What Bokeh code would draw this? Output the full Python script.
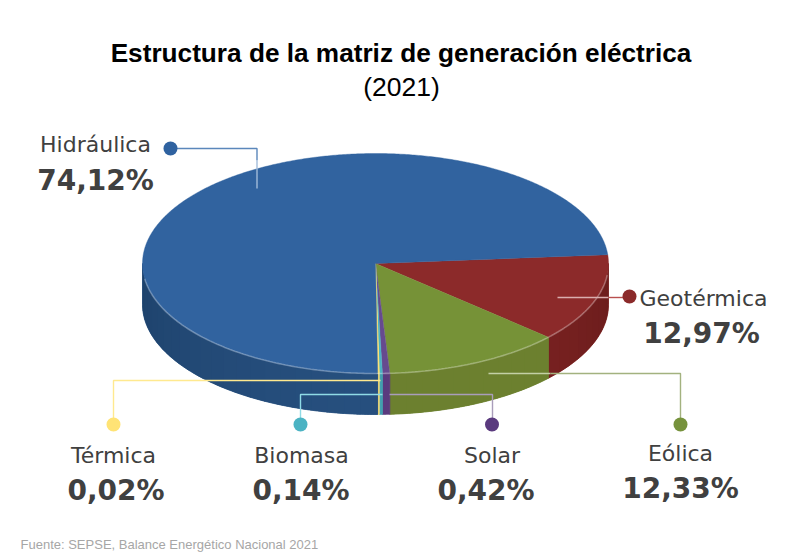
import numpy as np
from bokeh.plotting import figure
from bokeh.models import Range1d
from bokeh.core.properties import value
from bokeh.embed import file_html
from bokeh.resources import INLINE

TITLE = "Estructura de la matriz de generación eléctrica"
SUBTITLE = "(2021)"
SOURCE = "Fuente: SEPSE, Balance Energético Nacional 2021"

# clockwise from the pie's start angle
categories = ["Geotérmica", "Eólica", "Solar", "Biomasa", "Térmica", "Hidráulica"]
shares = [12.97, 12.33, 0.42, 0.14, 0.02, 74.12]
share_labels = ["12,97%", "12,33%", "0,42%", "0,14%", "0,02%", "74,12%"]

top_colors = {"Geotérmica": "#8c2a2a", "Eólica": "#769237", "Solar": "#664a8f",
              "Biomasa": "#4bb3c3", "Térmica": "#ffe375", "Hidráulica": "#31639f"}
side_near = {"Geotérmica": (128, 36, 35), "Eólica": (108, 128, 47), "Solar": (90, 58, 126),
             "Biomasa": (67, 160, 175), "Térmica": (255, 227, 117), "Hidráulica": (39, 80, 127)}
side_far = {"Geotérmica": (107, 29, 29), "Eólica": (108, 128, 47), "Solar": (90, 58, 126),
            "Biomasa": (67, 160, 175), "Térmica": (255, 227, 117), "Hidráulica": (30, 66, 108)}

CX, CY, RX, RY, DEPTH = 375.0, 263.0, 233.0, 110.0, 41.0
START = -4.6
THIN_PAD = 0.3  # very thin slices get a small visible minimum width

p = figure(width=800, height=559, output_backend="svg", toolbar_location=None,
           x_range=Range1d(0, 800), y_range=Range1d(559, 0), min_border=0,
           outline_line_color=None, background_fill_color="white")
p.axis.visible = False
p.grid.visible = False


def ex(a):
    return CX + RX * np.cos(np.radians(a))


def ey(a):
    return CY + RY * np.sin(np.radians(a))


# angular extents
sweeps = np.array(shares) / sum(shares) * 360.0
sweeps = np.where(sweeps < 2.0, sweeps + THIN_PAD, sweeps)
ends = START + np.cumsum(sweeps)
starts = ends - sweeps
ends[-1] = START + 360.0

# side wall (only the front half of the rim is visible)
for cat, a0, a1 in zip(categories, starts, ends):
    lo, hi = max(a0, 0.0), min(a1, 180.0)
    if hi <= lo:
        continue
    n = max(1, int((hi - lo) / 4.0))
    edges = np.linspace(lo, hi, n + 1)
    base_aa = np.linspace(lo, hi, n * 6 + 2)
    xs = np.r_[ex(base_aa), ex(base_aa[::-1])]
    ys = np.r_[ey(base_aa), ey(base_aa[::-1]) + DEPTH]
    p.patch(xs, ys, fill_color=side_near[cat], line_color=side_near[cat], line_width=0.8)
    for i in range(n):
        aa = np.linspace(edges[i], min(edges[i + 1] + 1.0, hi), 6)
        mid = (edges[i] + edges[i + 1]) / 2
        # brightest at the front of the pie, darker towards the outer edges
        t = min(abs(mid - 90.0) / 90.0, 1.0) ** 1.3
        c = tuple(int(n_ + (f_ - n_) * t) for n_, f_ in zip(side_near[cat], side_far[cat]))
        xs = np.r_[ex(aa), ex(aa[::-1])]
        ys = np.r_[ey(aa), ey(aa[::-1]) + DEPTH]
        if (a1 - a0) > 5:
            p.patch(xs, ys, fill_color=c, line_color=None)

# top face
for cat, a0, a1 in zip(categories, starts, ends):
    aa = np.linspace(a0, a1, max(3, int((a1 - a0) * 2)))
    xs = np.r_[CX, ex(aa)]
    ys = np.r_[CY, ey(aa)]
    thin = (a1 - a0) < 0.6
    p.patch(xs, ys, fill_color=top_colors[cat], line_color=top_colors[cat],
            line_width=1.0 if thin else 0.4)

# highlight along the front rim
aa = np.linspace(6, 172, 200)
p.line(ex(aa), ey(aa), line_color="white", line_alpha=0.3, line_width=1.6)


def leader(xs, ys, color, width=1.4):
    p.line(xs, ys, line_color=color, line_width=width)


# leader lines
leader([170, 256.5, 256.5], [148, 148, 160], "#5b87bb")
leader([256.5, 256.5], [160, 188], "#a3bcda")
leader([557, 608], [297, 297], "#d9aeae")
leader([608, 629], [297, 297], "#b9504f")
leader([488, 550], [373, 373], "#c3d0a6")
leader([550, 680, 680], [373, 373, 424], "#a3b27f")
leader([389, 492, 492], [394, 394, 424], "#a99dba")
leader([382, 300, 300], [394, 394, 424], "#8fdbe6")
leader([380, 113, 113], [380, 380, 424], "#ffe98f")

markers = {"Hidráulica": (170, 148), "Geotérmica": (629, 296), "Eólica": (680, 424),
           "Solar": (491.5, 424), "Biomasa": (300, 424), "Térmica": (113, 424)}
marker_colors = {"Hidráulica": "#2f62a0", "Geotérmica": "#8b2a2a", "Eólica": "#76923c",
                 "Solar": "#5a3a7e", "Biomasa": "#4bb3c3", "Térmica": "#ffe375"}
for cat, (mx, my) in markers.items():
    p.scatter([mx], [my], size=14, marker="circle", fill_color=marker_colors[cat], line_color=None)

name_pos = {"Hidráulica": (95, 144), "Geotérmica": (703, 298), "Eólica": (680, 453),
            "Solar": (491.5, 455), "Biomasa": (301, 455), "Térmica": (113, 455)}
value_pos = {"Hidráulica": (95, 180), "Geotérmica": (701, 333), "Eólica": (680, 488),
             "Solar": (485.5, 490), "Biomasa": (300.5, 490), "Térmica": (115.5, 490)}

for cat, lab in zip(categories, share_labels):
    nx, ny = name_pos[cat]
    vx, vy = value_pos[cat]
    p.text([nx], [ny], text=[cat], text_font=value("DejaVu Sans"), text_font_size="22px",
           text_color="#404040", text_align="center", text_baseline="middle")
    p.text([vx], [vy], text=[lab], text_font=value("DejaVu Sans"), text_font_style="bold",
           text_font_size="28px", text_color="#404040", text_align="center", text_baseline="middle")

p.text([400.5], [52], text=[TITLE], text_font=value("Liberation Sans"), text_font_style="bold",
       text_font_size="26.2px", text_color="black", text_align="center", text_baseline="middle")
p.text([401], [86], text=[SUBTITLE], text_font=value("Liberation Sans"),
       text_font_size="26.5px", text_color="black", text_align="center", text_baseline="middle")
p.text([20], [544], text=[SOURCE], text_font=value("Liberation Sans"),
       text_font_size="13px", text_color="#a6a6a6", text_align="left", text_baseline="middle")

open("out.html", "w").write(file_html(p, INLINE))
